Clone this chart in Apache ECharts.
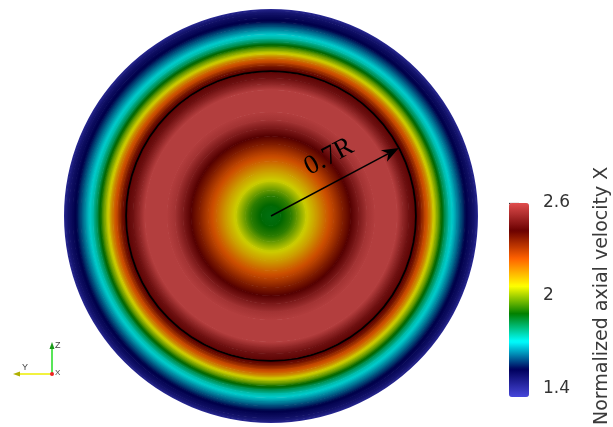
<!DOCTYPE html>
<html>
<head>
<meta charset="utf-8">
<style>
  html, body { margin: 0; padding: 0; background: #ffffff; }
  #chart { width: 613px; height: 427px; }
</style>
<script src="https://cdn.jsdelivr.net/npm/echarts@6/dist/echarts.min.js"></script>
</head>
<body>
<div id="chart"></div>
<script>
// Radial profile of the normalized axial velocity across the pipe section (r / R).
const radiusFrac = [0, 0.048, 0.097, 0.126, 0.17, 0.218, 0.266, 0.305, 0.349, 0.387, 0.426, 0.465, 0.504,
  0.61, 0.64, 0.668, 0.697, 0.717, 0.731, 0.746, 0.765, 0.784, 0.804, 0.823, 0.843, 0.862, 0.881,
  0.901, 0.92, 0.939, 0.959, 0.978, 0.993, 1.0];
const velocity = [1.90, 1.91, 1.95, 2.00, 2.08, 2.15, 2.23, 2.29, 2.37, 2.43, 2.50, 2.57, 2.60,
  2.60, 2.53, 2.47, 2.44, 2.40, 2.34, 2.27, 2.20, 2.10, 2.02, 1.93, 1.84, 1.77, 1.73,
  1.68, 1.63, 1.58, 1.55, 1.52, 1.48, 1.44];

// Colour scale (Rainbow Desaturated) and its legend ticks.
const scaleMin = 1.4;
const scaleMax = 2.6;
const scaleColors = ['#4747db', '#00005c', '#00ffff', '#008000', '#ffff00', '#ff6100', '#6b0000', '#e04d4d'];
const colorbarTicks = [1.4, 2, 2.6];
const colorbarTitle = 'Normalized axial velocity X';

// Annotation: reference circle and arrow at 0.7R.
const markerRadius = [0.7];
const arrowAngle = [28];
const markerLabel = '0.7R';
const labelPos = [0.40, 45.5];

const shade = 0.8; // surface lighting on the rendered section
const uiFont = '"DejaVu Sans", Verdana, sans-serif';

function hexToRgb(h) {
  return [parseInt(h.slice(1, 3), 16), parseInt(h.slice(3, 5), 16), parseInt(h.slice(5, 7), 16)];
}
const scaleRgb = scaleColors.map(hexToRgb);
function colorAt(v) {
  let t = (v - scaleMin) / (scaleMax - scaleMin);
  t = Math.max(0, Math.min(1, t));
  const pos = t * (scaleRgb.length - 1);
  const i = Math.min(Math.floor(pos), scaleRgb.length - 2);
  const f = pos - i;
  const a = scaleRgb[i], b = scaleRgb[i + 1];
  const c = [0, 1, 2].map(k => Math.round((a[k] + (b[k] - a[k]) * f) * shade));
  return 'rgb(' + c.join(',') + ')';
}

// Ring table built from consecutive profile samples.
const ringItems = radiusFrac.slice(1).map((r, i) => [radiusFrac[i], r, velocity[i], velocity[i + 1]]);

function renderRing(params, api) {
  const c = api.coord([0, 0]);
  const pIn = api.coord([api.value(0), 0]);
  const pOut = api.coord([api.value(1), 0]);
  const rIn = pIn[0] - c[0];
  const rOut = pOut[0] - c[0];
  const vIn = api.value(2), vOut = api.value(3);
  const n = 8;
  const stops = [];
  for (let k = 0; k <= n; k++) {
    const f = k / n;
    const rr = rIn + (rOut - rIn) * f;
    stops.push({ offset: rr / rOut, color: colorAt(vIn + (vOut - vIn) * f) });
  }
  return {
    type: 'ring',
    shape: { cx: c[0], cy: c[1], r: rOut, r0: Math.max(0, rIn - 0.6) },
    style: { fill: new echarts.graphic.RadialGradient(c[0], c[1], rOut, stops, true) },
    silent: true
  };
}

function renderMarker(params, api) {
  const c = api.coord([0, 0]);
  const rad = api.value(0);
  const ang = api.value(1);
  const edge = api.coord([rad, 0]);
  const rPx = edge[0] - c[0];
  const tip = api.coord([rad, ang]);
  const dx = tip[0] - c[0], dy = tip[1] - c[1];
  const len = Math.hypot(dx, dy);
  const ux = dx / len, uy = dy / len;
  const px = -uy, py = ux;
  const headLen = 17, headHalf = 6.5, notch = 12;
  const back = [tip[0] - ux * headLen, tip[1] - uy * headLen];
  const notchPt = [tip[0] - ux * notch, tip[1] - uy * notch];
  const lp = api.coord(labelPos);
  return {
    type: 'group',
    children: [
      { type: 'circle', shape: { cx: c[0], cy: c[1], r: rPx },
        style: { fill: 'none', stroke: '#000', lineWidth: 1.8 } },
      { type: 'line', shape: { x1: c[0], y1: c[1], x2: notchPt[0], y2: notchPt[1] },
        style: { stroke: '#000', lineWidth: 1.5 } },
      { type: 'polygon', shape: { points: [
          tip,
          [back[0] + px * headHalf, back[1] + py * headHalf],
          notchPt,
          [back[0] - px * headHalf, back[1] - py * headHalf]
        ] }, style: { fill: '#000' } },
      { type: 'text', x: lp[0], y: lp[1], rotation: ang * Math.PI / 180,
        style: { text: markerLabel, font: '27px "Liberation Serif", "DejaVu Serif", serif',
          fill: '#000', align: 'center', verticalAlign: 'middle' } }
    ]
  };
}

const chart = echarts.init(document.getElementById('chart'), null, { renderer: 'canvas' });

chart.setOption({
  animation: false,
  backgroundColor: '#ffffff',
  polar: { center: [271, 216], radius: 207 },
  angleAxis: { type: 'value', min: 0, max: 360, startAngle: 0, clockwise: false, show: false },
  radiusAxis: { type: 'value', min: 0, max: 1, show: false },
  grid: { left: 509, top: 203, width: 20, height: 194 },
  xAxis: { type: 'value', show: false, min: 0, max: 1 },
  yAxis: {
    type: 'value', position: 'right', min: scaleMin, max: scaleMax,
    axisLine: { show: false },
    splitLine: { show: false },
    axisTick: { show: true, inside: false, length: 10, customValues: colorbarTicks,
      lineStyle: { color: '#222', width: 1.2 } },
    axisLabel: { show: true, customValues: colorbarTicks, margin: 18, fontSize: 17,
      color: '#333', fontFamily: uiFont },
    name: colorbarTitle, nameLocation: 'middle', nameRotate: 90, nameGap: 68,
    nameTextStyle: { fontSize: 19, color: '#3a3a3a', fontFamily: uiFont }
  },
  visualMap: {
    type: 'continuous', min: scaleMin, max: scaleMax, seriesIndex: 0, dimension: 2,
    left: 509, top: 203, itemWidth: 20, itemHeight: 194, padding: 0,
    calculable: false, realtime: false, hoverLink: false,
    inRange: { color: scaleColors }
  },
  series: [
    { type: 'custom', coordinateSystem: 'polar', data: ringItems, renderItem: renderRing, silent: true, z: 1 },
    { type: 'custom', coordinateSystem: 'polar', data: [[markerRadius[0], arrowAngle[0]]],
      renderItem: renderMarker, silent: true, z: 5 },
    { type: 'line', xAxisIndex: 0, yAxisIndex: 0, data: [], silent: true }
  ],
  graphic: [
    // view orientation triad
    { type: 'line', shape: { x1: 52, y1: 375, x2: 52, y2: 348 }, style: { stroke: '#22dd22', lineWidth: 1.5 } },
    { type: 'polygon', shape: { points: [[52, 342], [49.5, 349], [54.5, 349]] }, style: { fill: '#1a9a1a' } },
    { type: 'line', shape: { x1: 52, y1: 374, x2: 19, y2: 374 }, style: { stroke: '#eeee00', lineWidth: 1.5 } },
    { type: 'polygon', shape: { points: [[13, 374], [20, 371.5], [20, 376.5]] }, style: { fill: '#b0b000' } },
    { type: 'circle', shape: { cx: 52, cy: 374, r: 2 }, style: { fill: '#ee2222' } },
    { type: 'text', x: 55, y: 341, style: { text: 'Z', font: '9px "Liberation Sans", sans-serif', fill: '#444' } },
    { type: 'text', x: 22, y: 363, style: { text: 'Y', font: '9px "Liberation Sans", sans-serif', fill: '#444' } },
    { type: 'text', x: 55, y: 369, style: { text: 'X', font: '8px "Liberation Sans", sans-serif', fill: '#444' } }
  ]
});
</script>
</body>
</html>
